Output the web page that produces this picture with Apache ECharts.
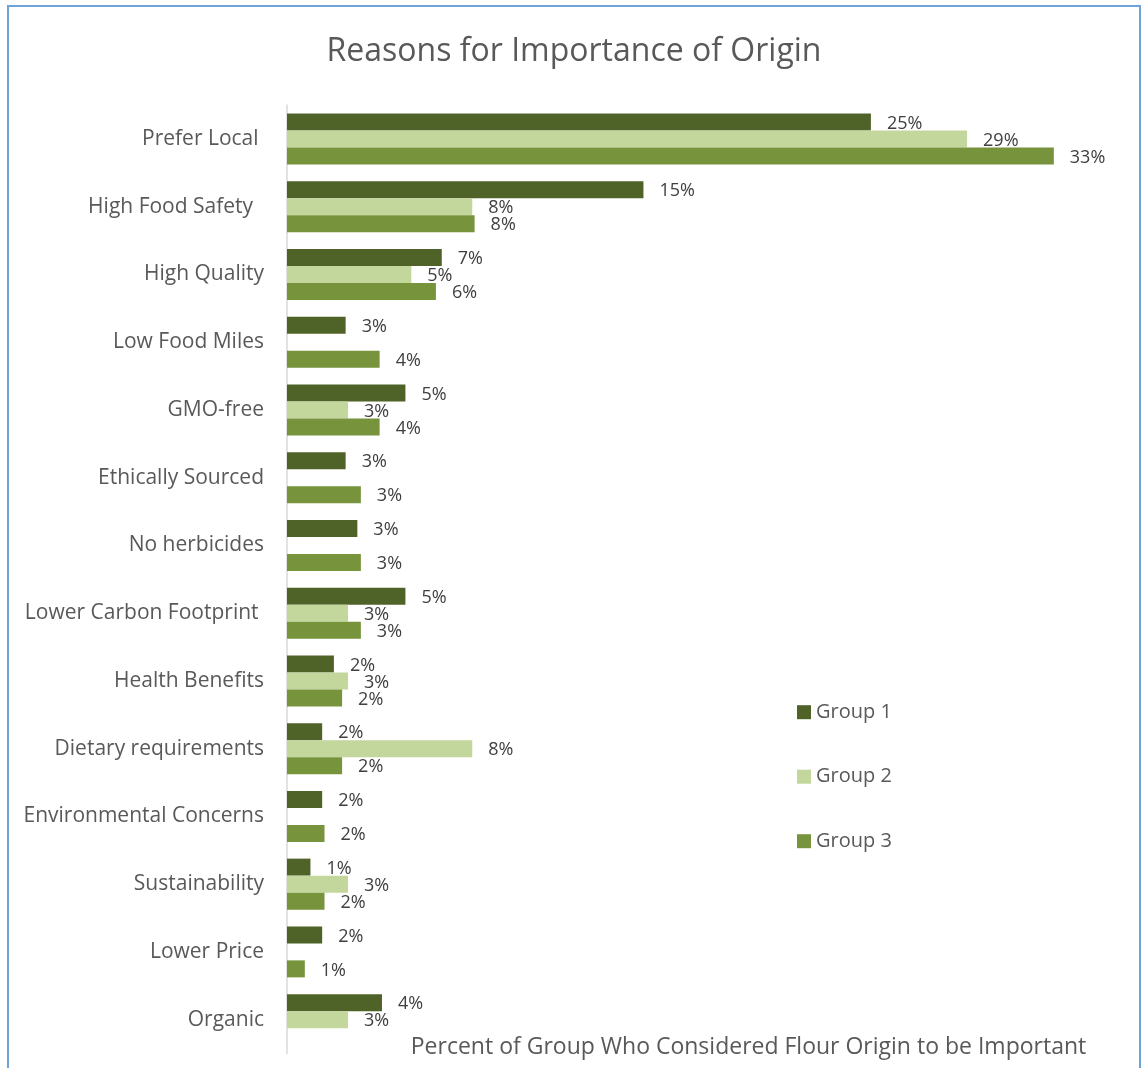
<!DOCTYPE html>
<html>
<head>
<meta charset="utf-8">
<script src="https://cdn.jsdelivr.net/npm/echarts@6/dist/echarts.min.js"></script>
<style>
  html, body { margin: 0; padding: 0; background: #ffffff; }
  #chart { width: 1143px; height: 1068px; }
</style>
</head>
<body>
<div id="chart"></div>
<script>
// Reasons given, top to bottom (some labels carry trailing spaces as entered)
const categories = [
  'Prefer Local ', 'High Food Safety  ', 'High Quality', 'Low Food Miles', 'GMO-free',
  'Ethically Sourced', 'No herbicides', 'Lower Carbon Footprint ', 'Health Benefits',
  'Dietary requirements', 'Environmental Concerns', 'Sustainability', 'Lower Price', 'Organic'
];
const seriesNames = ['Group 1', 'Group 2', 'Group 3'];

// Percent of each group (null = no response in that group)
const group1 = [24.9, 15.2, 6.6, 2.5, 5.05, 2.5, 3.0, 5.05, 2.0, 1.5, 1.5, 1.0, 1.5, 4.05];
const group2 = [29.0, 7.9, 5.3, null, 2.6, null, null, 2.6, 2.6, 7.9, null, 2.6, null, 2.6];
const group3 = [32.7, 8.0, 6.35, 3.95, 3.95, 3.15, 3.15, 3.15, 2.35, 2.35, 1.6, 1.6, 0.76, null];

const groupColors = ['#4F6228', '#C3D69B', '#77933C'];
const axisMax = 35;

const FONT = '"Open Sans", "Noto Sans", sans-serif';

const chart = echarts.init(document.getElementById('chart'), null, { renderer: 'canvas' });

function barSeries(name, data, color) {
  return {
    name: name,
    type: 'bar',
    data: data,
    barWidth: 17,
    barGap: '0%',
    itemStyle: { color: color },
    label: {
      show: true,
      position: 'right',
      distance: 16,
      offset: [0, 1.5],
      fontFamily: FONT,
      fontSize: 18,
      color: '#404040',
      formatter: p => Math.round(p.value) + '%'
    },
    emphasis: { disabled: true }
  };
}

chart.setOption({
  backgroundColor: '#ffffff',
  animation: false,
  textStyle: { fontFamily: FONT },
  title: [
    {
      text: 'Reasons for Importance of Origin',
      left: 574,
      top: 36,
      textAlign: 'center',
      padding: 0,
      textStyle: { fontFamily: FONT, fontSize: 32, fontWeight: 'normal', color: '#595959' }
    },
    {
      text: 'Percent of Group Who Considered Flour Origin to be Important',
      left: 748.5,
      top: 1036,
      textAlign: 'center',
      padding: 0,
      textStyle: { fontFamily: FONT, fontSize: 23, fontWeight: 'normal', color: '#595959' }
    }
  ],
  legend: {
    data: seriesNames,
    orient: 'vertical',
    left: 797,
    top: 702.2,
    padding: 0,
    itemWidth: 14,
    itemHeight: 14,
    itemGap: 44.5,
    icon: 'rect',
    selectedMode: false,
    textStyle: { fontFamily: FONT, fontSize: 20, lineHeight: 20, color: '#595959' }
  },
  grid: {
    left: 287,
    top: 105,
    width: 820.75,
    height: 948.5,
    containLabel: false,
    outerBoundsMode: 'none'
  },
  xAxis: {
    type: 'value',
    min: 0,
    max: axisMax,
    axisLine: { show: false },
    axisTick: { show: false },
    axisLabel: { show: false },
    splitLine: { show: false }
  },
  yAxis: {
    type: 'category',
    data: categories,
    inverse: true,
    axisLine: { show: true, lineStyle: { color: '#D9D9D9', width: 1.5 } },
    axisTick: { show: false },
    axisLabel: {
      margin: 23,
      padding: [4, 0, 0, 0],
      fontFamily: FONT,
      fontSize: 21,
      color: '#595959'
    }
  },
  series: [
    barSeries(seriesNames[0], group1, groupColors[0]),
    barSeries(seriesNames[1], group2, groupColors[1]),
    barSeries(seriesNames[2], group3, groupColors[2])
  ],
  graphic: [
    {
      type: 'rect',
      silent: true,
      shape: { x: 8, y: 6, width: 1132, height: 1100 },
      style: { fill: 'none', stroke: '#6FA3D8', lineWidth: 2 },
      z: 100
    }
  ]
});
</script>
</body>
</html>
